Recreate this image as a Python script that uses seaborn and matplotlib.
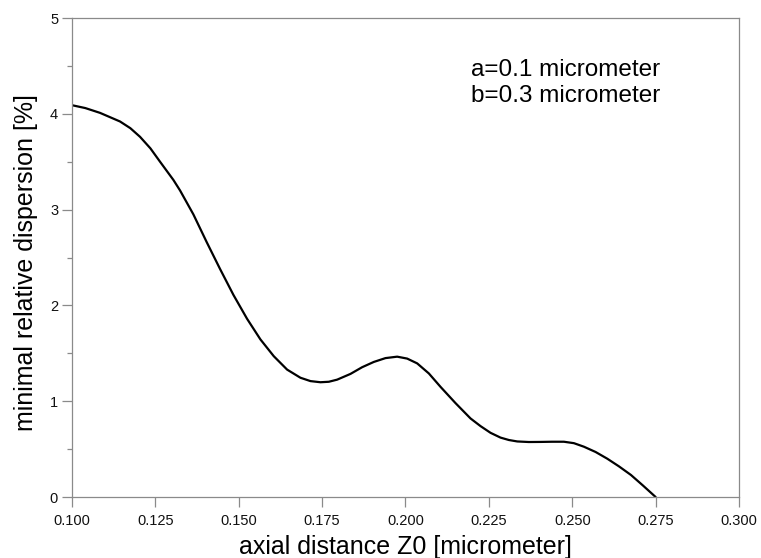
import matplotlib
matplotlib.use("Agg")
import matplotlib.pyplot as plt
import seaborn as sns
import pandas as pd
from matplotlib.ticker import MultipleLocator

# Minimal relative dispersion versus axial distance
z0 = [0.1000, 0.1040, 0.1084, 0.1144, 0.1175, 0.1204, 0.1235, 0.1264,
      0.1304, 0.1324, 0.1364, 0.1404, 0.1444, 0.1484, 0.1525, 0.1565,
      0.1605, 0.1645, 0.1685, 0.1715, 0.1745, 0.1770, 0.1795, 0.1835,
      0.1870, 0.1905, 0.1940, 0.1975, 0.2005, 0.2035, 0.2070, 0.2105,
      0.2150, 0.2195, 0.2225, 0.2255, 0.2285, 0.2310, 0.2335, 0.2370,
      0.2405, 0.2440, 0.2475, 0.2505, 0.2535, 0.2570, 0.2605, 0.2640,
      0.2676, 0.2712, 0.2750]
dispersion = [4.09, 4.06, 4.01, 3.92, 3.85, 3.76, 3.64, 3.50,
              3.31, 3.20, 2.95, 2.66, 2.38, 2.11, 1.86, 1.645,
              1.47, 1.33, 1.245, 1.21, 1.198, 1.203, 1.225, 1.285,
              1.355, 1.41, 1.45, 1.465, 1.445, 1.395, 1.29, 1.15,
              0.98, 0.82, 0.74, 0.67, 0.62, 0.595, 0.580, 0.574,
              0.575, 0.577, 0.577, 0.562, 0.525, 0.47, 0.40, 0.32,
              0.23, 0.12, 0.00]

x_ticks = [0.100, 0.125, 0.150, 0.175, 0.200, 0.225, 0.250, 0.275, 0.300]
y_ticks = [0, 1, 2, 3, 4, 5]
note_lines = ["a=0.1 micrometer", "b=0.3 micrometer"]

df = pd.DataFrame({"z0": z0, "dispersion": dispersion})

sns.set_theme(style="ticks")
plt.rcParams["font.family"] = ["Liberation Sans", "DejaVu Sans"]

fig = plt.figure(figsize=(7.61, 5.58), dpi=100)
ax = fig.add_axes([0.0946, 0.1093, 0.8765, 0.8584])

sns.lineplot(data=df, x="z0", y="dispersion", ax=ax, color="black",
             linewidth=1.6, estimator=None, sort=False)

ax.set_xlim(0.100, 0.300)
ax.set_ylim(0, 5)
ax.set_xticks(x_ticks)
ax.set_xticklabels([f"{v:.3f}" for v in x_ticks])
ax.set_yticks(y_ticks)
ax.set_yticklabels([str(v) for v in y_ticks])
ax.yaxis.set_minor_locator(MultipleLocator(0.5))

spine_col = "#8a8a8a"
for s in ax.spines.values():
    s.set_visible(True)
    s.set_color(spine_col)
    s.set_linewidth(0.9)

ax.tick_params(axis="both", which="major", direction="out", length=7, width=0.9,
               color=spine_col, labelsize=10.5, labelcolor="#111111")
ax.tick_params(axis="x", which="major", pad=5)
ax.tick_params(axis="y", which="major", pad=3)
ax.tick_params(axis="y", which="minor", direction="out", length=3.5, width=0.9,
               color=spine_col)

ax.set_xlabel("axial distance Z0 [micrometer]", fontsize=18, color="black", labelpad=5)
ax.set_ylabel("minimal relative dispersion [%]", fontsize=18, color="black")
ax.yaxis.set_label_coords(-0.051, 0.489)

ax.text(0.2195, 4.40, note_lines[0], fontsize=17.5, ha="left", va="baseline", color="black")
ax.text(0.2195, 4.12, note_lines[1], fontsize=17.5, ha="left", va="baseline", color="black")

ax.grid(False)
ax.set_facecolor("white")
fig.patch.set_facecolor("white")

fig.savefig("out.png", dpi=100)
